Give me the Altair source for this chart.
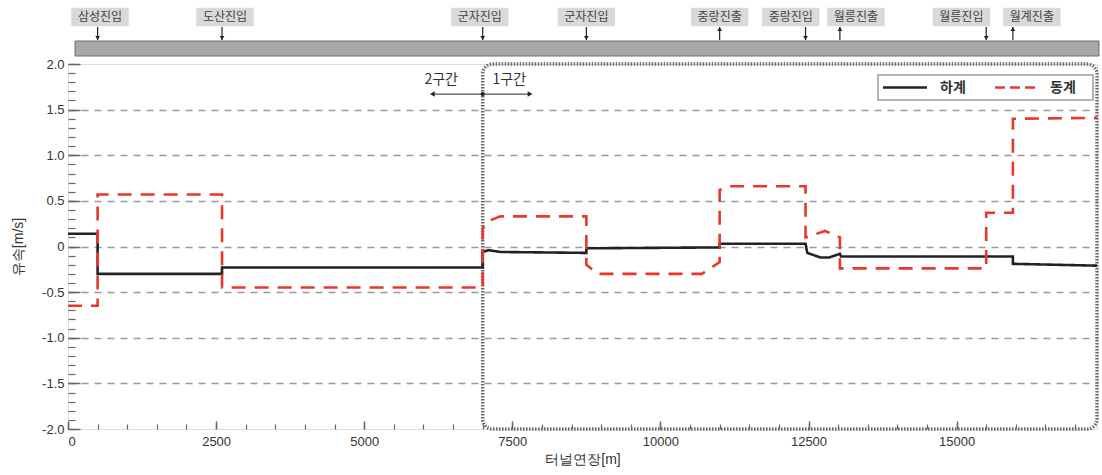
import altair as alt
import pandas as pd

FONT = "Noto Sans CJK KR"
X_MAX = 17370

# 하계 (summer) air velocity profile, vertices of the step line
summer_x = [0, 500, 500, 2600, 2600, 7000, 7000, 7100, 7300, 8750, 8750, 11000, 11000,
            12450, 12480, 12700, 12850, 13030, 13050, 15950, 15950, 17370]
summer_y = [0.14, 0.14, -0.30, -0.30, -0.23, -0.23, -0.06, -0.04, -0.06, -0.07, -0.02, -0.01, 0.03,
            0.03, -0.07, -0.12, -0.12, -0.08, -0.11, -0.11, -0.19, -0.21]

# 동계 (winter) air velocity profile
winter_x = [0, 500, 500, 2600, 2600, 7000, 7000, 7100, 7300, 8750, 8750, 8950, 10700, 11000,
            11000, 11150, 12450, 12450, 12550, 12780, 13030, 13030, 15500, 15500, 15950, 15950, 17370]
winter_y = [-0.65, -0.65, 0.57, 0.57, -0.45, -0.45, 0.20, 0.28, 0.33, 0.33, -0.20, -0.30, -0.30, -0.17,
            0.62, 0.66, 0.66, 0.10, 0.12, 0.17, 0.10, -0.24, -0.24, 0.37, 0.37, 1.40, 1.41]

series_names = ["하계", "동계"]
series_colors = ["#222222", "#e8372c"]
series_dash = [[1, 0], [14, 9]]

# stations along the tunnel (top bar)
station_names = ["삼성진입", "도산진입", "군자진입", "군자진입", "중랑진출", "중랑진입", "월릉진출", "월릉진입", "월계진출"]
station_pos = [500, 2600, 7000, 8750, 11000, 12450, 13030, 15500, 15950]
station_label_pos = [540, 2650, 6950, 8750, 11000, 12200, 13300, 15080, 16270]
station_dir = ["in", "in", "in", "in", "out", "in", "out", "in", "out"]

# sections
section_names = ["2구간", "1구간"]
section_label_x = [6300, 7450]
section_label_y = [1.83, 1.83]
section_boundary = 7000
section_arrow_x = [6150, 7800]
section_arrow_y = 1.67

y_major = [-2.0, -1.5, -1.0, -0.5, 0.0, 0.5, 1.0, 1.5, 2.0]
y_minor = [round(-2 + 0.1 * i, 1) for i in range(41)]
x_major = [0, 2500, 5000, 7500, 10000, 12500, 15000]
x_minor = [500 * i for i in range(35)]

rows = []
for i, (x, y) in enumerate(zip(summer_x, summer_y)):
    rows.append({"x": x, "y": y, "series": series_names[0], "i": i})
for i, (x, y) in enumerate(zip(winter_x, winter_y)):
    rows.append({"x": x, "y": y, "series": series_names[1], "i": i})
lines_df = pd.DataFrame(rows)

xs = alt.Scale(domain=[0, X_MAX], nice=False, zero=False)
ys = alt.Scale(domain=[-2, 2], nice=False, zero=False)

main_y_axis = alt.Axis(
    orient="left", values=y_major, tickSize=12, offset=-12, domain=False,
    grid=True, gridDash=[7, 6], gridColor="#9a9a9a", gridWidth=1.5,
    gridOpacity={"condition": {"test": "abs(datum.value) >= 2", "value": 0}, "value": 1},
    labelExpr="datum.value == 0 ? '0' : replace(format(datum.value, '.1f'), '\u2212', '-')",
    labelPadding=4, labelFontSize=13, labelColor="#333", tickColor="#666", tickWidth=1.5,
    title="유속[m/s]", titleFontSize=14, titleFontWeight="normal", titleColor="#333", titlePadding=16,
)
main_x_axis = alt.Axis(
    orient="bottom", values=x_major, tickSize=8, offset=-8, domain=False, grid=False,
    format="d", labelPadding=6, labelFontSize=13, labelColor="#333", tickColor="#666", tickWidth=1.5,
    title="터널연장[m]", titleFontSize=14, titleFontWeight="normal", titleColor="#333", titlePadding=4,
)

lines = alt.Chart(lines_df).mark_line(strokeWidth=2.6, clip=False).encode(
    x=alt.X("x:Q", scale=xs, axis=main_x_axis),
    y=alt.Y("y:Q", scale=ys, axis=main_y_axis),
    order=alt.Order("i:Q"),
    color=alt.Color("series:N", scale=alt.Scale(domain=series_names, range=series_colors), legend=None),
    strokeDash=alt.StrokeDash("series:N", scale=alt.Scale(domain=series_names, range=series_dash),
                              legend=None),
)

minor = alt.Chart(pd.DataFrame({"x": [0], "y": [0]})).mark_point(opacity=0).encode(
    x=alt.X("x:Q", scale=xs, axis=alt.Axis(orient="bottom", values=x_minor, tickSize=5, offset=-5,
                                             domain=False, labels=False, grid=False, title=None,
                                             tickColor="#666", tickWidth=1.2)),
    y=alt.Y("y:Q", scale=ys, axis=alt.Axis(orient="left", values=y_minor, tickSize=7, offset=-7,
                                             domain=False, labels=False, grid=False, title=None,
                                             tickColor="#666", tickWidth=1.2)),
)

box_df = pd.DataFrame({"x": [section_boundary], "x2": [X_MAX], "y": [2.0], "y2": [-2.0]})
box = alt.Chart(box_df).mark_rect(cornerRadius=10, fillOpacity=0, stroke="#6a6a6a",
                                  strokeWidth=3.5, strokeDash=[1.5, 1.5]).encode(
    x=alt.X("x:Q", scale=xs, axis=None), x2="x2:Q",
    y=alt.Y("y:Q", scale=ys, axis=None), y2="y2:Q",
)

sec_df = pd.DataFrame({"x": section_label_x, "y": section_label_y, "t": section_names})
sec_text = alt.Chart(sec_df).mark_text(font=FONT, fontSize=14, color="#333").encode(
    x=alt.X("x:Q", scale=xs, axis=None), y=alt.Y("y:Q", scale=ys, axis=None), text="t:N")

arr_df = pd.DataFrame({"x": [section_arrow_x[0]], "x2": [section_arrow_x[1]], "y": [section_arrow_y]})
sec_rule = alt.Chart(arr_df).mark_rule(color="#222", strokeWidth=1).encode(
    x=alt.X("x:Q", scale=xs, axis=None), x2="x2:Q", y=alt.Y("y:Q", scale=ys, axis=None))
heads_df = pd.DataFrame({"x": section_arrow_x, "y": [section_arrow_y] * 2,
                         "s": ["triangle-left", "triangle-right"]})
sec_heads = alt.Chart(heads_df).mark_point(filled=True, size=30, color="#222", opacity=1).encode(
    x=alt.X("x:Q", scale=xs, axis=None), y=alt.Y("y:Q", scale=ys, axis=None),
    shape=alt.Shape("s:N", scale=None))
dot = alt.Chart(pd.DataFrame({"x": [section_boundary], "y": [section_arrow_y]})).mark_circle(
    size=18, color="#222", opacity=1).encode(
    x=alt.X("x:Q", scale=xs, axis=None), y=alt.Y("y:Q", scale=ys, axis=None))

# legend (drawn by hand, top right inside the plot)
one = pd.DataFrame({"a": [0]})
leg_box = alt.Chart(one).mark_rect(fill="white", stroke="#9a9a9a", strokeWidth=1.5).encode(
    x=alt.value(810), x2=alt.value(1025), y=alt.value(11), y2=alt.value(36))
leg_line1 = alt.Chart(one).mark_rule(color=series_colors[0], strokeWidth=2.6).encode(
    x=alt.value(815), x2=alt.value(859), y=alt.value(23.5))
leg_line2 = alt.Chart(one).mark_rule(color=series_colors[1], strokeWidth=2.6, strokeDash=[10, 5]).encode(
    x=alt.value(927), x2=alt.value(968), y=alt.value(23.5))
leg_text1 = alt.Chart(one).mark_text(font=FONT, fontSize=14, fontWeight="bold", color="#333",
                                     align="left", text=series_names[0]).encode(
    x=alt.value(872), y=alt.value(24))
leg_text2 = alt.Chart(one).mark_text(font=FONT, fontSize=14, fontWeight="bold", color="#333",
                                     align="left", text=series_names[1]).encode(
    x=alt.value(982), y=alt.value(24))

# top bar
bar = alt.Chart(one).mark_rect(fill="#a8a8ac", stroke="#707070", strokeWidth=1).encode(
    x=alt.value(7), x2=alt.value(1031), y=alt.value(-23), y2=alt.value(-8))

st_df = pd.DataFrame({"name": station_names, "pos": station_pos, "lpos": station_label_pos,
                      "dir": station_dir})
st_rule = alt.Chart(st_df).mark_rule(color="#222", strokeWidth=1.2).encode(
    x=alt.X("pos:Q", scale=xs, axis=None), y=alt.value(-37), y2=alt.value(-24))
st_in = alt.Chart(st_df).transform_filter("datum.dir == 'in'").mark_point(
    shape="triangle-down", filled=True, size=22, color="#222", opacity=1).encode(
    x=alt.X("pos:Q", scale=xs, axis=None), y=alt.value(-26))
st_out = alt.Chart(st_df).transform_filter("datum.dir == 'out'").mark_point(
    shape="triangle-up", filled=True, size=22, color="#222", opacity=1).encode(
    x=alt.X("pos:Q", scale=xs, axis=None), y=alt.value(-35))
st_bg = alt.Chart(st_df).mark_point(shape="M-1,-0.32H1V0.32H-1Z", size=3300, filled=True,
                                    color="#d9d9d9", opacity=1).encode(
    x=alt.X("lpos:Q", scale=xs, axis=None), y=alt.value(-47))
st_text = alt.Chart(st_df).mark_text(font=FONT, fontSize=12, color="#444").encode(
    x=alt.X("lpos:Q", scale=xs, axis=None), y=alt.value(-47), text="name:N")

chart = alt.layer(
    minor, box, lines, sec_text, sec_rule, sec_heads, dot,
    leg_box, leg_line1, leg_line2, leg_text1, leg_text2,
    bar, st_rule, st_in, st_out, st_bg, st_text
).resolve_axis(x="independent", y="independent").properties(
    width=1029, height=365,
    autosize=alt.AutoSizeParams(type="none"),
    padding={"left": 68, "top": 64, "right": 5, "bottom": 46},
).configure_view(stroke="#777", strokeWidth=2).configure_axis(
    labelFont=FONT, titleFont=FONT
).configure(background="white")

chart.save("out.html", embed_options={"renderer": "svg", "actions": False})
